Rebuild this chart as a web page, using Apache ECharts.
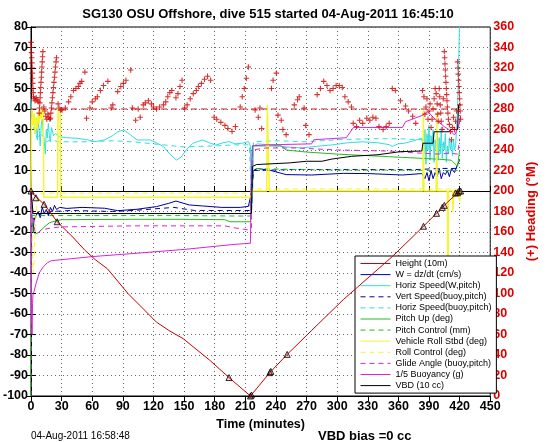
<!DOCTYPE html>
<html><head><meta charset="utf-8">
<script src="https://cdn.jsdelivr.net/npm/echarts@6/dist/echarts.min.js"></script>
<style>html,body{margin:0;padding:0;background:#fff}#c{width:546px;height:442px}</style>
</head><body><div id="c"></div>
<script>
const titleText = 'SG130 OSU Offshore, dive 515 started 04-Aug-2011 16:45:10';
const xTicks = {min:0, max:450, interval:30};
const leftTicks = {min:-100, max:80, interval:10};
const rightTicks = {min:0, max:360, interval:20};

const heightData = [[0,0],[5,-3],[13,-6.5],[25.6,-15],[40,-22],[53,-29],[63,-33.5],[75,-38],[95,-50],[123,-64],[135,-68],[149,-72],[175,-82.5],[194,-91],[215,-100],[234,-88.6],[251,-79.7],[275,-68],[306,-53],[354,-32],[385,-17],[397,-11],[407,-6],[420,0]];
const wData = [[0,0],[1,-15],[2,-20],[3,-14],[5,-12],[7,-10],[9,-13],[11,-8],[13,-11],[15,-9],[17,-12],[19,-8],[21,-10],[23,-7],[25,-9],[28,-8],[35,-8.5],[50,-8],[72,-8.4],[85,-9.6],[104,-8.9],[123,-7.6],[135,-6],[142,-4.9],[155,-6.8],[168,-7.3],[187,-8],[205,-8],[213,-7.5],[215,-3],[218,10],[222,11],[235,10],[250,8],[275,7.8],[306,8.6],[330,8.5],[364,7.8],[383,8.5],[386,6],[388,9],[390,5],[392,10],[394,6],[396,9],[398,7],[400,11],[402,6],[404,9],[406,8],[408,10],[410,7],[412,11],[415,9],[418,13],[420,15]];
const horizData = [[0,45],[1,38],[2,33],[3,37],[4,28],[5,35],[6,25],[7,33],[8,30],[9,22],[10,32],[11,35],[12,28],[13,24],[14,18],[15,30],[16,26],[17,33],[18,27],[19,24],[20,31],[22,27],[24,28],[27,26.5],[35,26],[46,25.7],[55,25],[62.5,24.1],[72,24.9],[80,27],[85,28.9],[91,29.8],[97.7,27.3],[104,24.9],[117,24.9],[123,23.5],[130,21.6],[136,18],[142.6,15.1],[147,16.5],[152,20],[158.6,23.3],[168,24.9],[175,23.5],[181,22.4],[188,23.5],[194,24.1],[200,23],[206.7,23.3],[213,24.1],[215,22],[216,-5],[217,-6],[218,22],[222,23],[235,22.5],[250,21.5],[265,21],[280,21.8],[295,22.5],[310,23.5],[325,24],[340,23.5],[351,22.6],[354,21.8],[360,23],[367,23.4],[375,24.5],[383,25.8],[385,18],[386,30],[387,13],[388,28],[389,20],[390,32],[391,15],[392,27],[393,22],[394,30],[395,14],[396,25],[397,20],[398,29],[399,15],[400,26],[401,18],[402,31],[403,16],[404,24],[405,20],[406,28],[407,14],[408,22],[409,18],[410,26],[411,20],[412,24],[413,17],[414,25],[415,20],[416,22],[417,30],[418,40],[419,60],[420,85]];
const vertBuoyData = [[0,0],[1,-12],[3,-14],[6,-12],[10,-11],[20,-10],[40,-9.5],[80,-10],[100,-9.5],[140,-8],[160,-9.5],[200,-9.5],[214,-9.5],[216,-3],[218,10],[260,10.5],[300,10.5],[350,10.5],[380,10.5],[400,11],[418,11]];
const horizBuoyData = [[0,40],[3,30],[6,26],[10,28],[15,24],[20,25],[27,24],[50,24],[80,24.5],[100,24],[130,22.5],[150,21.5],[180,22],[200,22.5],[214,22.5],[216,-3],[218,24],[240,24.5],[270,24],[300,25],[330,25.5],[360,25.5],[383,25],[390,27],[400,22],[410,24],[418,25]];
const pitchData = [[0,0],[1,-15],[2,-20],[4,-21],[8,-20],[12,-18],[18,-15.5],[25,-14.5],[30,-14],[100,-13.8],[150,-13.8],[190,-14],[195,-15],[215,-15],[217,22],[245,22],[250,20],[270,19],[300,18],[340,17],[380,16],[400,15.5],[412,15],[418,12],[420,20]];
const pitchCtlData = [[0,-100],[0.3,-60],[0.6,-12],[30,-12],[100,-12],[150,-12],[200,-12.2],[215,-12.2],[217,11],[260,10.5],[300,10.2],[350,10.2],[400,10],[418,10]];
const rollData = [[0,0],[0.5,30],[1,40],[2,32],[3,38],[4,28],[5,36],[6,30],[7,38],[8,33],[9,40],[10,35],[11,40],[12,38],[12.5,-3],[20,-3],[26,-3],[26.5,40],[28.5,40],[29,-3],[60,-3],[100,-3],[150,-3],[200,-3],[215,-3],[216,-2],[217,0],[231,0],[231.5,42],[233,42],[233.5,0],[260,0],[300,0],[340,0],[384,0],[384.5,40],[385,0],[397,0],[397.5,38],[398,0],[408,0],[408.5,-75],[409,0],[413,0],[413.5,-10],[414,0],[419,0],[420,-5],[421,0]];
const rollCtlData = [[0,0],[1,-20],[2,-40],[3,-35],[4,-20],[5,-10],[6,-5],[8,-2],[12,-1],[12.5,-1],[26,-1],[26.5,38],[28.5,38],[29,-1],[100,-1],[215,-1],[217,1],[260,1],[340,1],[418,1]];
const glideData = [[0,0],[2,-15],[4,-20],[6,-21],[10,-19],[20,-18],[30,-17.5],[100,-17],[150,-17],[190,-17],[200,-18],[213,-19],[216,-18],[217,20],[230,21],[260,21],[300,20],[350,19.5],[380,18.5],[400,18],[410,18.5],[418,18],[420,25]];
const buoyData = [[0,0],[0.5,-60],[1,-70],[1.5,-55],[2,-50],[3,-49],[5,-45],[8,-40],[12,-37],[16,-35],[20,-34],[30,-33.5],[60,-32],[100,-30.5],[150,-28.5],[200,-26],[215,-25.5],[216,10],[217,22],[230,22.5],[275,23],[277,25],[309,26],[316,31],[364,31],[367,33.8],[384,37],[389,38.7],[394,36],[399,33.8],[405,31.4],[410,29.8],[415,27.3],[419,31.4],[421,37]];
const vbdData = [[0,0],[1,-5],[2,-11],[216,-11],[217,12],[221,12.9],[253,13.7],[270,14.5],[285,14.5],[295,15.6],[314,16.9],[340,17.7],[362,19.2],[383,19.5],[384,23.3],[394,23.3],[395,28.9],[410,28.9],[411,30],[418,30],[419,42],[421,42]];
const headingData = [[0,345],[0.3,340],[0.5,335],[0.7,330],[0.9,325],[1.1,320],[1.3,315],[1.5,310],[1.7,305],[1.9,300],[2.1,296],[2.4,292],[3,290],[4,288],[5,291],[6,289],[7,287],
[8,276],[8.3,281],[8.6,286],[8.9,291],[9.2,296],[9.5,301],[9.8,306],[10.1,311],[10.4,316],[10.7,321],[11,326],[11.3,331],[11.6,336],
[12.5,282],[13.5,278],[14.5,273],[15.5,270],[16.5,275],[17.5,272],[18.5,270],
[19,271],[19.5,276],[20,281],[20.5,286],[21,291],[21.5,296],[22,301],[22.5,306],[23,311],[23.5,316],[24,321],[24.5,326],[25,330],
[26.5,285],[27.5,281],[29,279],
[30.4,279],[33.6,281],[36.8,287],[39,292],[41.6,298],[44,300],[46.4,302],[48,305],[49.6,307],[52.8,316],
[54.4,271],[57.7,281],[60,287],[63,290],[65,292],[68,298],[71,303],[75.3,307],
[78.5,281],[80.1,284],[84.9,297],[88,302],[90.5,305],[93,308],[97.7,318],
[99.3,281],[102.5,269],[105,280],[107,272],[110,284],[112,286],[115,288],[118,285],
[120,282],[123,280],[126,282],[129.8,284],[132,287],[134,292],[136,296],[138,298],
[142,291],[144,295],[146,302],[148,308],
[150.6,281],[153,284],[156,290],[159,295],[162,298],[164,302],[167,305],[170,309],[173,312],[176,308],
[179.4,272],[182,270],[186,267],[190,264],[193,261],[197,258],[200.3,263],
[205,282],[207,292],[209,300],[211,310],[213,321],
[219.6,279],[222.7,272],[224.3,281],[226,261],
[235.6,300],[237.2,308],[240.4,315],[242,274],[245.2,269],[246.8,260],[250,255],
[258,284],[261.2,289],[262.8,292],[267.6,281],[269.2,264],[272.4,255],
[280.4,294],[283.6,300],[286.8,307],[290,303],[293,298],[296,300],[299,303],[302,303],[305,301],
[307.6,292],[310.8,287],[314,282],
[315.7,266],[319,263],[322,269],[325,266],[329,271],[332,269],[335,272],[338,271],
[341,263],[345,260],[348,263],[351,266],
[354,300],[357,298],[362,288],[367,283],[370,278],[374,273],[377,266],
[383.6,298],[385,292],
[386,275],[387,282],[388,290],[389,270],[390,278],[391,285],[392,262],[393,270],[394,280],[395,290],[396,300],[397,295],[398,285],[398.5,275],[399,268],[400,300],[400.5,292],[401,284],[401.5,276],[402,268],[403,260],[404,290],
[405,336],[405.3,330],[405.6,324],[406,318],[406.3,312],[406.6,306],[407,300],[407.3,294],[407.6,288],[408,282],[408.5,276],[409,270],[410,265],[411,258],[412,250],[413,262],[414,272],[415,260],[416,268],[417,278],
[418,326],[418.3,320],[418.6,314],[419,308],[419.3,302],[419.6,296],[420,290],[420.3,284],[420.6,278],[421,270]];
const desiredHeading = [[0,280],[420,280]];
const markerData = [[0,0],[4.8,-3.3],[12.8,-6.5],[25.6,-15],[194,-91],[215,-100],[216,-99.5],[234,-88.6],[235,-88],[251,-79.7],[384.6,-17.2],[397.4,-10.9],[403,-8],[405,-7],[416,-1],[418,-0.8],[419.5,0],[421,0]];

const legendNames = ['Height (10m)','W = dz/dt (cm/s)','Horiz Speed(W,pitch)','Vert Speed(buoy,pitch)','Horiz Speed(buoy,pitch)','Pitch Up (deg)','Pitch Control (mm)','Vehicle Roll Stbd (deg)','Roll Control (deg)','Glide Angle (buoy,pitch)','1/5 Buoyancy (g)','VBD (10 cc)'];

const FONT = 'Liberation Sans, Arial, Helvetica, sans-serif';
function line(name, data, color, dashed, width, z) {
  return {name, type:'line', data, yAxisIndex:0, symbol:'none', animation:false, z: z||2,
    lineStyle:{color, width: width||1, type: dashed ? [5,4] : 'solid'}, itemStyle:{color}};
}
const chart = echarts.init(document.getElementById('c'), null, {renderer:'canvas'});
chart.setOption({
  animation:false,
  backgroundColor:'#fff',
  title:{text:titleText, left:263, textAlign:'center', top:3, textStyle:{fontFamily:FONT, fontSize:13, fontWeight:'bold', color:'#000'}},
  grid:{left:31, right:47, top:27, bottom:46, show:true, borderColor:'#000', borderWidth:1, backgroundColor:'transparent'},
  legend:{data:legendNames, orient:'vertical', left:355, top:256, backgroundColor:'#fff', borderColor:'#000', borderWidth:1,
    padding:[3,5,3,5], itemGap:2.1, itemWidth:30, itemHeight:9, selectedMode:false,
    itemStyle:{opacity:0}, lineStyle:{width:1},
    textStyle:{fontFamily:FONT, fontSize:9, color:'#000'}},
  xAxis:[
    {type:'value', min:xTicks.min, max:xTicks.max, interval:xTicks.interval, position:'bottom',
     name:'Time (minutes)', nameLocation:'middle', nameGap:18,
     nameTextStyle:{fontFamily:FONT, fontSize:12.5, fontWeight:'bold', color:'#000'},
     axisLine:{show:true, lineStyle:{color:'#000'}}, axisTick:{inside:true, length:5, lineStyle:{color:'#000'}},
     axisLabel:{fontFamily:FONT, fontSize:12.5, fontWeight:'bold', color:'#000', margin:4},
     splitLine:{show:true, lineStyle:{color:'#666', type:[1,3], width:1}}},
    {type:'value', min:xTicks.min, max:xTicks.max, interval:xTicks.interval, position:'top',
     axisLine:{show:true, lineStyle:{color:'#000'}}, axisTick:{inside:true, length:5, lineStyle:{color:'#000'}},
     axisLabel:{show:false}, splitLine:{show:false}}
  ],
  yAxis:[
    {type:'value', min:leftTicks.min, max:leftTicks.max, interval:leftTicks.interval, position:'left',
     axisLine:{show:true, lineStyle:{color:'#000'}}, axisTick:{inside:true, length:5, lineStyle:{color:'#000'}},
     axisLabel:{fontFamily:FONT, fontSize:12.5, fontWeight:'bold', color:'#000', margin:3},
     splitLine:{show:true, lineStyle:{color:'#666', type:[1,3], width:1}}},
    {type:'value', min:rightTicks.min, max:rightTicks.max, interval:rightTicks.interval, position:'right',
     name:'(+) Heading (\u00B0M)', nameLocation:'middle', nameGap:32, nameRotate:90,
     nameTextStyle:{fontFamily:FONT, fontSize:13, fontWeight:'bold', color:'#dd0000'},
     axisLine:{show:true, lineStyle:{color:'#000'}}, axisTick:{inside:true, length:5, lineStyle:{color:'#000'}},
     axisLabel:{fontFamily:FONT, fontSize:12.5, fontWeight:'bold', color:'#dd0000', margin:3},
     splitLine:{show:false}}
  ],
  graphic:[
    {type:'text', left:31, top:431, style:{text:'04-Aug-2011 16:58:48', font:'10px '+FONT, fill:'#000'}},
    {type:'text', left:318, top:430, style:{text:'VBD bias =0 cc', font:'bold 13px '+FONT, fill:'#000'}}
  ],
  series:[
    line(legendNames[0], heightData, '#c80000', false, 1, 5),
    line(legendNames[1], wData, '#0000a0', false),
    line(legendNames[2], horizData, '#33dddd', false),
    line(legendNames[3], vertBuoyData, '#0000a0', true),
    line(legendNames[4], horizBuoyData, '#33dddd', true),
    line(legendNames[5], pitchData, '#22bb22', false),
    line(legendNames[6], pitchCtlData, '#22bb22', true),
    line(legendNames[7], rollData, '#f5f530', false, 1.5),
    line(legendNames[8], rollCtlData, '#f5f530', true),
    line(legendNames[9], glideData, '#dd22dd', true),
    line(legendNames[10], buoyData, '#dd22dd', false),
    line(legendNames[11], vbdData, '#000000', false),
    {name:'desired', type:'line', yAxisIndex:1, data:desiredHeading, symbol:'none', z:3,
     lineStyle:{color:'#cc2222', width:1, type:[6,4]}},
    {name:'heading', type:'scatter', yAxisIndex:1, data:headingData, z:4,
     symbol:'path://M3,0H4.5V3H7.5V4.5H4.5V7.5H3V4.5H0V3H3Z', symbolSize:5.5, itemStyle:{color:'#d00000'}},
    {name:'marks', type:'scatter', yAxisIndex:0, data:markerData, z:6,
     symbol:'triangle', symbolSize:6, itemStyle:{color:'rgba(200,0,0,0.2)', borderColor:'#000', borderWidth:1}}
  ]
});
</script></body></html>
